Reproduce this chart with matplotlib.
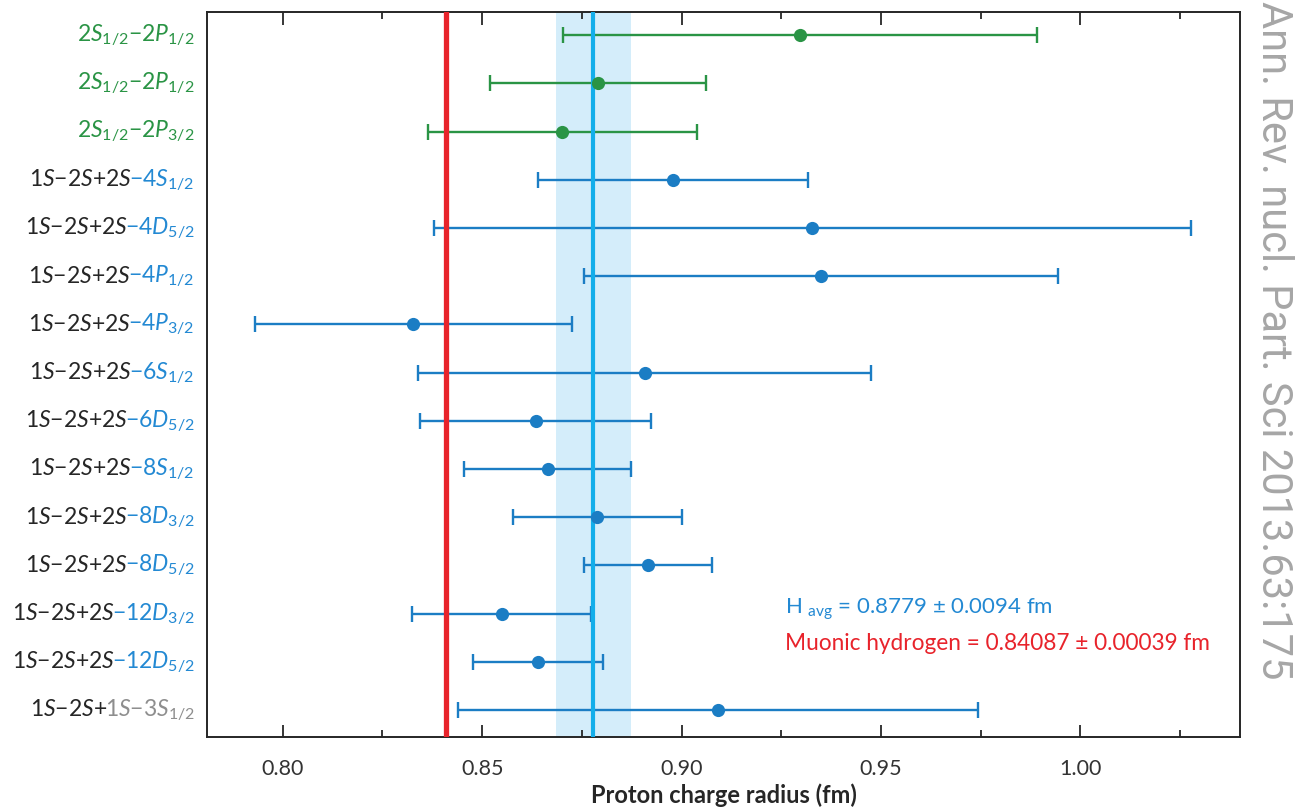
"""Proton charge radius from hydrogen spectroscopy vs muonic hydrogen."""
import numpy as np
import matplotlib
matplotlib.use('Agg')
import matplotlib.pyplot as plt
from matplotlib.offsetbox import TextArea, HPacker, AnnotationBbox

plt.rcParams['font.family'] = ['Lato', 'DejaVu Sans']
plt.rcParams['mathtext.fontset'] = 'custom'
plt.rcParams['mathtext.rm'] = 'Lato'
plt.rcParams['mathtext.it'] = 'Lato:italic'
plt.rcParams['mathtext.bf'] = 'Lato:bold'

# data (fm), top row first
radius = [0.9296, 0.8790, 0.8701, 0.8979, 0.9328, 0.9350, 0.8327, 0.8908,
          0.8634, 0.8664, 0.8789, 0.8916, 0.8549, 0.8639, 0.9092]
radius_err = [0.0594, 0.0270, 0.0338, 0.0338, 0.0950, 0.0594, 0.0397, 0.0568,
              0.0290, 0.0210, 0.0211, 0.0160, 0.0224, 0.0163, 0.0652]
group = ['lamb'] * 3 + ['1s2s'] * 12

label_prefix = [''] * 3 + [r'$1S{-}2S{+}2S$'] * 11 + [r'$1S{-}2S{+}$']
label_suffix = [r'$2S_{1/2}{-}2P_{1/2}$', r'$2S_{1/2}{-}2P_{1/2}$', r'$2S_{1/2}{-}2P_{3/2}$',
                r'${-}4S_{1/2}$', r'${-}4D_{5/2}$', r'${-}4P_{1/2}$', r'${-}4P_{3/2}$',
                r'${-}6S_{1/2}$', r'${-}6D_{5/2}$', r'${-}8S_{1/2}$', r'${-}8D_{3/2}$',
                r'${-}8D_{5/2}$', r'${-}12D_{3/2}$', r'${-}12D_{5/2}$', r'$1S{-}3S_{1/2}$']
suffix_kind = ['lamb'] * 3 + ['1s2s'] * 11 + ['gray']

h_avg, h_avg_err = 0.8779, 0.0094
muonic, muonic_err = 0.84087, 0.00039

GREEN = '#2a9445'
BLUE = '#1b7dc4'
LABEL_BLUE = '#2389d3'
CYAN = '#13aeea'
BAND = '#d4edfa'
RED = '#e8232b'
GRAY = '#8e8e8e'
DARK = '#262626'

fig = plt.figure(figsize=(12.99, 8.07), dpi=100)
ax = fig.add_axes([207 / 1299, 1 - 737 / 807, (1240 - 207) / 1299, (737 - 12) / 807])

n = len(radius)
ys = np.arange(n)

ax.axvspan(h_avg - h_avg_err, h_avg + h_avg_err, color=BAND, lw=0, zorder=0)
for i in range(n):
    c = GREEN if group[i] == 'lamb' else BLUE
    ax.errorbar(radius[i], ys[i], xerr=radius_err[i], fmt='none', ecolor=c,
                elinewidth=1.7, capsize=6, capthick=1.7, zorder=2)
ax.axvline(muonic, color=RED, lw=3.8, zorder=3)
ax.axvline(h_avg, color=CYAN, lw=3.0, zorder=3)
for i in range(n):
    c = GREEN if group[i] == 'lamb' else BLUE
    ax.plot(radius[i], ys[i], 'o', color=c, ms=9.5, mec='none', zorder=4)

ax.set_xlim(0.781, 1.040)
ax.set_ylim(n - 1 + 0.56, -0.48)
ax.set_yticks([])
ax.set_xticks(np.arange(0.80, 1.001, 0.05))
ax.set_xticks(np.arange(0.825, 1.04, 0.05), minor=True)
ax.set_xticklabels([f'{v:.2f}' for v in np.arange(0.80, 1.001, 0.05)])
ax.tick_params(axis='x', which='major', direction='in', length=9, width=1.3,
               top=True, labelsize=15.5, labelcolor='#333333', color=DARK, pad=16)
ax.tick_params(axis='x', which='minor', direction='in', length=5, width=1.3,
               top=True, color=DARK)
for s in ax.spines.values():
    s.set_color(DARK)
    s.set_linewidth(1.4)
ax.set_xlabel('Proton charge radius (fm)', fontsize=17, fontweight='bold',
              color=DARK, labelpad=3)

# row labels: black prefix + coloured suffix, baseline-aligned
suffix_color = {'lamb': GREEN, '1s2s': LABEL_BLUE, 'gray': GRAY}
for i in range(n):
    parts = []
    if label_prefix[i]:
        parts.append(TextArea(label_prefix[i], textprops=dict(color=DARK, fontsize=16.5)))
    parts.append(TextArea(label_suffix[i],
                          textprops=dict(color=suffix_color[suffix_kind[i]], fontsize=16.5)))
    box = HPacker(children=parts, align='baseline', pad=0, sep=-2)
    ab = AnnotationBbox(box, (-0.012, ys[i]), xycoords=ax.get_yaxis_transform(),
                        box_alignment=(1, 0.5), frameon=False, annotation_clip=False)
    ax.add_artist(ab)

ax.text(0.926, 11.9, r'H $_{\mathrm{avg}}$ = 0.8779 ± 0.0094 fm', color=LABEL_BLUE,
        fontsize=16, ha='left', va='center')
ax.text(0.926, 12.62, 'Muonic hydrogen = 0.84087 ± 0.00039 fm', color=RED,
        fontsize=16.3, ha='left', va='center')

fig.text(1273 / 1299, 1 - 1 / 807, 'Ann. Rev. nucl. Part. Sci 2013.63:175',
         rotation=-90, ha='center', va='top', fontsize=30, color='#a6a6a6',
         family=['Roboto', 'DejaVu Sans'])

plt.savefig('out.png', dpi=100)
